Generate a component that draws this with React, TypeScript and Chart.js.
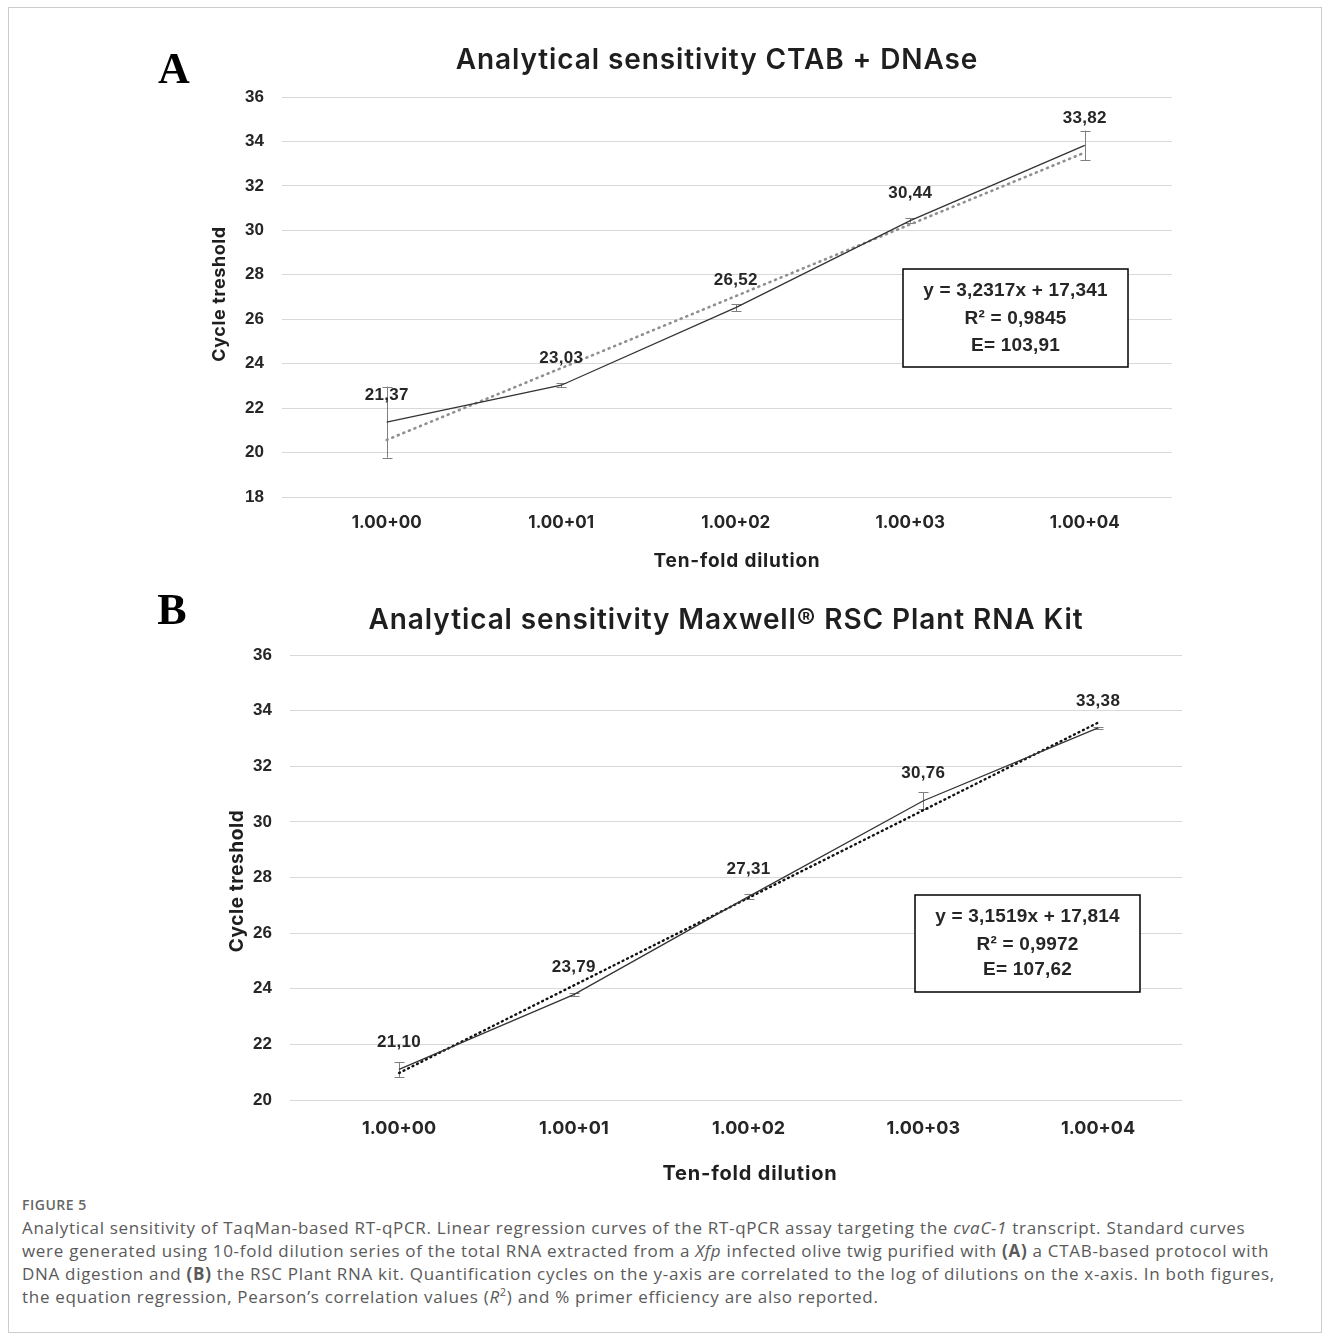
import React, { useEffect, useRef } from "react";
import { Chart, registerables } from "chart.js";

Chart.register(...registerables);

// ---------- data ----------
const dilutions = ["1.00+00", "1.00+01", "1.00+02", "1.00+03", "1.00+04"];
const dilutionIndex = [1, 2, 3, 4, 5];

const ctabMeans = [21.37, 23.03, 26.52, 30.44, 33.82];
const ctabErrors = [1.6, 0.1, 0.15, 0.1, 0.67];
const ctabTrend = [20.57, 23.8, 27.04, 30.27, 33.5];
const ctabEquation = ["y = 3,2317x + 17,341", "R² = 0,9845", "E= 103,91"];

const maxwellMeans = [21.1, 23.79, 27.31, 30.76, 33.38];
const maxwellErrors = [0.27, 0.04, 0.1, 0.3, 0.03];
const maxwellTrend = [20.97, 24.12, 27.27, 30.42, 33.57];
const maxwellEquation = ["y = 3,1519x + 17,814", "R² = 0,9972", "E= 107,62"];

const yTicksA = [18, 20, 22, 24, 26, 28, 30, 32, 34, 36];
const yTicksB = [20, 22, 24, 26, 28, 30, 32, 34, 36];

const fmt = (v: number) => v.toFixed(2).replace(".", ",");

type PanelOpts = {
  letter: string;
  title: string;
  means: number[];
  errors: number[];
  trend: number[];
  equation: string[];
  yTicks: number[];
  xMin: number;
  xMax: number;
  trendColor: string;
  trendDash: number[];
  trendWidth: number;
  padding: { top: number; right: number; bottom: number; left: number };
  yAxisWidth: number;
  xAxisHeight: number;
  yTickSize: number;
  xTickSize: number;
  yTickPad: number;
  xTickPad: number;
  titleAt: [number, number];
  letterAt: [number, number];
  yTitleAt: [number, number];
  yTitleSize: number;
  xTitleAt: [number, number];
  xTitleSize: number;
  box: { x: number; y: number; w: number; h: number; lines: number[] };
};

function makeConfig(o: PanelOpts): any {
  const decor = {
    id: "decor",
    beforeDatasetsDraw(chart: any) {
      const ctx = chart.ctx;
      const xs = chart.scales.x;
      const ys = chart.scales.y;
      ctx.save();
      ctx.strokeStyle = "#7f7f7f";
      ctx.lineWidth = 1;
      o.means.forEach((m, i) => {
        const x = Math.round(xs.getPixelForValue(dilutionIndex[i])) + 0.5;
        const yt = ys.getPixelForValue(m + o.errors[i]);
        const yb = ys.getPixelForValue(m - o.errors[i]);
        ctx.beginPath();
        ctx.moveTo(x, yt);
        ctx.lineTo(x, yb);
        ctx.moveTo(x - 5, Math.round(yt) + 0.5);
        ctx.lineTo(x + 5, Math.round(yt) + 0.5);
        ctx.moveTo(x - 5, Math.round(yb) + 0.5);
        ctx.lineTo(x + 5, Math.round(yb) + 0.5);
        ctx.stroke();
      });
      ctx.restore();
    },
    afterDraw(chart: any) {
      const ctx = chart.ctx;
      const xs = chart.scales.x;
      const ys = chart.scales.y;
      ctx.save();
      ctx.textAlign = "center";
      ctx.textBaseline = "middle";
      // data labels
      ctx.fillStyle = "#262626";
      ctx.font = "bold 17px 'Liberation Sans', Arial, sans-serif";
      ctx.letterSpacing = "0.3px";
      o.means.forEach((m, i) => {
        const x = xs.getPixelForValue(dilutionIndex[i]);
        const y = ys.getPixelForValue(m);
        ctx.fillText(fmt(m), x, y - 27);
      });
      ctx.letterSpacing = "0px";
      // panel letter
      ctx.fillStyle = "#000";
      ctx.font = "bold 44px 'Liberation Serif', 'Times New Roman', serif";
      ctx.fillText(o.letter, o.letterAt[0], o.letterAt[1]);
      // title
      ctx.fillStyle = "#1f1f1f";
      ctx.font = "600 28px Inter, 'Open Sans', sans-serif";
      ctx.letterSpacing = "0.9px";
      ctx.fillText(o.title, o.titleAt[0], o.titleAt[1]);
      // x title
      ctx.font = `700 ${o.xTitleSize}px Inter, 'Open Sans', sans-serif`;
      ctx.letterSpacing = "0.8px";
      ctx.fillText("Ten-fold dilution", o.xTitleAt[0], o.xTitleAt[1]);
      // y title
      ctx.save();
      ctx.translate(o.yTitleAt[0], o.yTitleAt[1]);
      ctx.rotate(-Math.PI / 2);
      ctx.font = `700 ${o.yTitleSize}px Inter, 'Open Sans', sans-serif`;
      ctx.letterSpacing = "0.6px";
      ctx.fillText("Cycle treshold", 0, 0);
      ctx.restore();
      // equation box
      const b = o.box;
      ctx.letterSpacing = "0px";
      ctx.fillStyle = "#fff";
      ctx.fillRect(b.x, b.y, b.w, b.h);
      ctx.strokeStyle = "#000";
      ctx.lineWidth = 1.5;
      ctx.strokeRect(b.x, b.y, b.w, b.h);
      ctx.fillStyle = "#262626";
      ctx.font = "bold 19px 'Liberation Sans', Arial, sans-serif";
      ctx.letterSpacing = "0.2px";
      o.equation.forEach((line, i) => {
        ctx.fillText(line, b.x + b.w / 2, b.lines[i]);
      });
      ctx.restore();
    },
  };

  return {
    type: "line",
    data: {
      datasets: [
        {
          label: "Ct",
          data: o.means.map((m, i) => ({ x: dilutionIndex[i], y: m })),
          borderColor: "#333333",
          borderWidth: 1.3,
          pointRadius: 0,
          tension: 0,
          fill: false,
          order: 1,
        },
        {
          label: "Trend",
          data: o.trend.map((m, i) => ({ x: dilutionIndex[i], y: m })),
          borderColor: o.trendColor,
          borderWidth: o.trendWidth,
          borderDash: o.trendDash,
          borderCapStyle: "round",
          pointRadius: 0,
          tension: 0,
          fill: false,
          order: 2,
        },
      ],
    },
    options: {
      animation: false,
      responsive: false,
      maintainAspectRatio: false,
      layout: { padding: o.padding },
      plugins: {
        legend: { display: false },
        title: { display: false },
        tooltip: { enabled: false },
      },
      scales: {
        x: {
          type: "linear",
          min: o.xMin,
          max: o.xMax,
          grid: { display: false, drawTicks: false },
          border: { display: false },
          afterBuildTicks: (s: any) => {
            s.ticks = dilutionIndex.map((v) => ({ value: v }));
          },
          afterFit: (s: any) => {
            s.height = o.xAxisHeight;
          },
          ticks: {
            autoSkip: false,
            maxRotation: 0,
            padding: o.xTickPad,
            color: "#262626",
            font: { family: "Inter, 'Open Sans', sans-serif", size: o.xTickSize, weight: "bold" },
            callback: (v: number) => dilutions[dilutionIndex.indexOf(v)] ?? "",
          },
        },
        y: {
          type: "linear",
          min: o.yTicks[0],
          max: o.yTicks[o.yTicks.length - 1],
          afterBuildTicks: (s: any) => {
            s.ticks = o.yTicks.map((v) => ({ value: v }));
          },
          afterFit: (s: any) => {
            s.width = o.yAxisWidth;
          },
          grid: { color: "#d9d9d9", lineWidth: 1, drawTicks: false },
          border: { display: false },
          ticks: {
            padding: o.yTickPad,
            color: "#262626",
            font: { family: "'Liberation Sans', Arial, sans-serif", size: o.yTickSize, weight: "bold" },
          },
        },
      },
    },
    plugins: [decor],
  };
}

function Panel({ opts, top, height }: { opts: PanelOpts; top: number; height: number }) {
  const ref = useRef<HTMLCanvasElement | null>(null);
  useEffect(() => {
    if (!ref.current) return;
    const chart = new Chart(ref.current, makeConfig(opts));
    return () => chart.destroy();
  }, [opts]);
  return (
    <canvas
      ref={ref}
      width={1331}
      height={height}
      style={{ position: "absolute", left: 0, top, width: 1331, height }}
    />
  );
}

const panelA: PanelOpts = {
  letter: "A",
  title: "Analytical sensitivity CTAB + DNAse",
  means: ctabMeans,
  errors: ctabErrors,
  trend: ctabTrend,
  equation: ctabEquation,
  yTicks: yTicksA,
  xMin: 0.4,
  xMax: 5.5,
  trendColor: "#8f8f8f",
  trendDash: [1, 5],
  trendWidth: 2.6,
  padding: { top: 97, right: 159, bottom: 0, left: 0 },
  yAxisWidth: 282,
  xAxisHeight: 93,
  yTickSize: 17,
  xTickSize: 17,
  yTickPad: 18,
  xTickPad: 16,
  titleAt: [717, 61],
  letterAt: [174, 72],
  yTitleAt: [220, 294],
  yTitleSize: 18,
  xTitleAt: [737, 561],
  xTitleSize: 19,
  box: { x: 903, y: 269, w: 225, h: 98, lines: [291, 319, 346] },
};

const panelB: PanelOpts = {
  letter: "B",
  title: "Analytical sensitivity Maxwell® RSC Plant RNA Kit",
  means: maxwellMeans,
  errors: maxwellErrors,
  trend: maxwellTrend,
  equation: maxwellEquation,
  yTicks: yTicksB,
  xMin: 0.376,
  xMax: 5.48,
  trendColor: "#111111",
  trendDash: [1, 4],
  trendWidth: 2.4,
  padding: { top: 65, right: 149, bottom: 0, left: 0 },
  yAxisWidth: 290,
  xAxisHeight: 90,
  yTickSize: 17,
  xTickSize: 18,
  yTickPad: 18,
  xTickPad: 18,
  titleAt: [726, 31],
  letterAt: [172, 23],
  yTitleAt: [237, 291],
  yTitleSize: 19,
  xTitleAt: [750, 584],
  xTitleSize: 20,
  box: { x: 915, y: 305, w: 225, h: 97, lines: [327, 355, 380] },
};

export default function App() {
  const cap: React.CSSProperties = {
    position: "absolute",
    left: 22,
    fontFamily: "'Open Sans', 'Noto Sans', sans-serif",
    color: "#5a5a5a",
    whiteSpace: "nowrap",
  };
  return (
    <div style={{ position: "absolute", left: 0, top: 0, width: 1331, height: 1342, background: "#fff" }}>
      <div
        style={{
          position: "absolute",
          left: 8,
          top: 7,
          width: 1314,
          height: 1326,
          border: "1px solid #cccccc",
          boxSizing: "border-box",
        }}
      />
      <Panel opts={panelA} top={0} height={590} />
      <Panel opts={panelB} top={590} height={600} />
      <div
        style={{
          ...cap,
          top: 1196,
          fontSize: 14,
          fontWeight: 600,
          color: "#666",
          lineHeight: "18px",
          letterSpacing: "0.5px",
        }}
      >
        FIGURE 5
      </div>
      <div style={{ ...cap, top: 1216, fontSize: 17, lineHeight: "23px", letterSpacing: "0.7px" }}>
        Analytical sensitivity of TaqMan-based RT-qPCR. Linear regression curves of the RT-qPCR assay targeting the{" "}
        <i>cvaC-1</i> transcript. Standard curves
        <br />
        were generated using 10-fold dilution series of the total RNA extracted from a <i>Xfp</i> infected olive twig
        purified with <b>(A)</b> a CTAB-based protocol with
        <br />
        DNA digestion and <b>(B)</b> the RSC Plant RNA kit. Quantification cycles on the y-axis are correlated to the log
        of dilutions on the x-axis. In both figures,
        <br />
        the equation regression, Pearson’s correlation values (<i>R</i>
        <sup style={{ fontSize: 11, lineHeight: 0 }}>2</sup>) and % primer efficiency are also reported.
      </div>
    </div>
  );
}
